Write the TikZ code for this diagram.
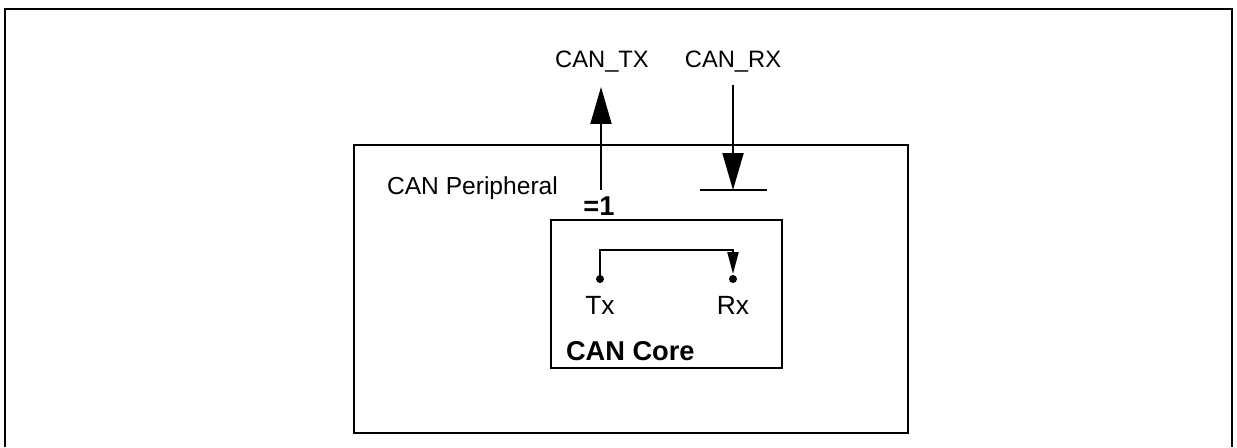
\documentclass[tikz,border=0pt]{standalone}
\usepackage{fontspec}
\setmainfont{Liberation Sans}
\usetikzlibrary{arrows.meta}
\begin{document}
\begin{tikzpicture}[x=0.02cm,y=-0.02cm,
  line width=1.15pt,
  lbl/.style={font=\fontsize{13.5}{16}\selectfont, inner sep=0pt},
  plbl/.style={font=\fontsize{14}{16}\selectfont, inner sep=0pt},
  slbl/.style={font=\fontsize{15}{18}\selectfont, inner sep=0pt},
  blbl/.style={font=\fontsize{15.5}{18}\selectfont\bfseries, inner sep=0pt},
  bigtip/.style={-{Triangle[length=0.74cm,width=0.42cm]}},
  smalltip/.style={-{Triangle[length=0.44cm,width=0.22cm]}},
  dot/.style={circle, fill=black, inner sep=0pt, minimum size=0.16cm}]
\useasboundingbox (0,0) rectangle (1237,447);
% outer frame (open at the bottom)
\draw[line width=1.6pt] (5,447) -- (5,9) -- (1232,9) -- (1232,447);
% peripheral box
\draw (354,145) rectangle (908,433);
\node[plbl, anchor=west] (per) at (386,188) {CAN Peripheral};
% core box
\draw (551,220) rectangle (782,368);
\node[blbl, anchor=west] (core) at (565,351) {CAN Core};
% TX
\node[lbl] (ctx) at (602,62) {CAN\_TX};
\node[blbl] (eq) at (599,206) {=1};
\coordinate (txs) at (601,190);
\coordinate (txe) at (601,87);
\draw[bigtip] (txs) -- (txe);
% RX
\node[lbl] (crx) at (733,62) {CAN\_RX};
\coordinate (rxs) at (733,85);
\coordinate (rxe) at (733,190);
\draw[bigtip] (rxs) -- (rxe);
\coordinate (barl) at (700,190);
\coordinate (barr) at (767,190);
\draw (barl) -- (barr);
% inner loop
\node[dot] (txd) at (600,279) {};
\node[dot] (rxd) at (733,279) {};
\draw[smalltip] (txd.center) -- (600,250) -- (733,250) -- (rxd.north);
\node[slbl] (txl) at (600,305) {Tx};
\node[slbl] (rxl) at (733,305) {Rx};
\end{tikzpicture}
\end{document}
